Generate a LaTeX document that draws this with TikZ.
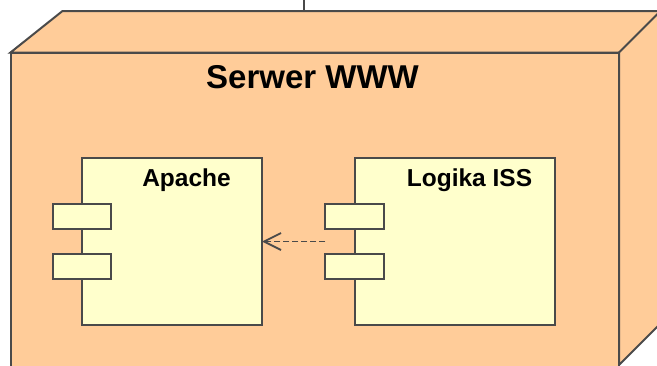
\documentclass[tikz,border=0pt]{standalone}
\usepackage{fontspec}
\setmainfont{Liberation Sans}
\usetikzlibrary{arrows.meta}
\definecolor{nodeorange}{HTML}{FFCC99}
\definecolor{compyellow}{HTML}{FFFFCC}
\definecolor{edgegray}{HTML}{4A4A4A}
\begin{document}
\begin{tikzpicture}[x=1pt,y=-1pt,
  outline/.style={draw=edgegray,line width=2pt,line join=miter},
  comp/.style={outline,fill=compyellow,rectangle,inner sep=0pt,outer sep=0pt},
  port/.style={comp,minimum width=58.5pt,minimum height=25pt},
  lbl/.style={font=\bfseries\fontsize{24.5}{26}\selectfont,anchor=base,inner sep=0pt},
  title/.style={font=\bfseries\fontsize{33}{36}\selectfont,anchor=base,inner sep=0pt},
  dep/.style={draw=edgegray,line width=1.8pt,dash pattern=on 6pt off 3pt,
    -{Straight Barb[length=17pt,width=17pt,line width=1.8pt]}}]
\useasboundingbox (0,0) rectangle (657,365);
\begin{scope}
\clip (0,0) rectangle (657,365);
% 3D node: top, right and front faces
\filldraw[outline,fill=nodeorange] (10.5,52.5) -- (62.5,11) -- (700,11) -- (619,52.5) -- cycle;
\filldraw[outline,fill=nodeorange] (619,52.5) -- (660.5,11) -- (720,11) -- (720,264) -- (619,365) -- cycle;
\filldraw[outline,fill=nodeorange] (10.5,52.5) rectangle (619,400);
\coordinate (topend) at (304,11);
\coordinate (topstart) at (304,-5);
\draw[outline] (topstart) -- (topend);
\end{scope}
\node[title] (server) at (312.5,88) {Serwer WWW};
% components
\node[comp,minimum width=180pt,minimum height=167pt] (apache) at (172,241.5) {};
\node[port] (ap1) at (81.75,216.5) {};
\node[port] (ap2) at (81.75,266.75) {};
\node[lbl] (apachelbl) at (186.5,186.5) {Apache};
\node[comp,minimum width=200.5pt,minimum height=167pt] (logika) at (454.75,241.5) {};
\node[port] (lp1) at (354.5,216.5) {};
\node[port] (lp2) at (354.5,266.75) {};
\node[lbl] (logikalbl) at (469.5,186.5) {Logika ISS};
\draw[dep] (logika.west -| lp1.west) -- (apache.east);
\end{tikzpicture}
\end{document}
